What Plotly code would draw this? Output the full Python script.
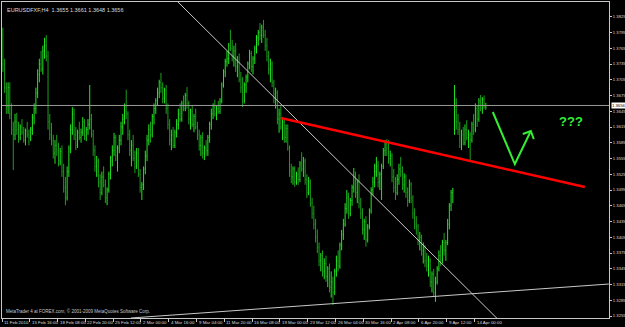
import plotly.graph_objects as go

# ---------------- data (prices x 1e-4) ----------------
opens = [
13790,13735,13690,13655,13690,13640,13610,13600,13625,13610,
13595,13615,13605,13590,13608,13600,13595,13610,13632,13650,
13680,13715,13735,13725,13760,13770,13750,13625,13600,13590,
13565,13580,13570,13550,13568,13530,13500,13480,13530,13575,
13610,13640,13600,13580,13605,13595,13605,13625,13598,13610,
13620,13630,13600,13570,13540,13550,13510,13490,13520,13505,
13480,13495,13525,13550,13570,13595,13560,13575,13590,13615,
13630,13645,13640,13600,13570,13580,13555,13540,13565,13525,
13500,13505,13535,13560,13590,13610,13600,13635,13650,13665,
13680,13700,13690,13670,13685,13650,13620,13590,13600,13580,
13605,13620,13640,13630,13660,13650,13675,13660,13630,13645,
13620,13635,13615,13600,13580,13595,13565,13575,13570,13595,
13620,13640,13655,13640,13650,13645,13665,13695,13720,13740,
13745,13770,13765,13750,13760,13730,13740,13705,13690,13665,
13695,13710,13735,13755,13730,13745,13765,13785,13795,13790,
13805,13790,13770,13750,13725,13735,13700,13670,13680,13630,
13640,13615,13625,13595,13612,13575,13530,13520,13535,13510,
13525,13515,13545,13535,13550,13515,13490,13510,13470,13450,
13430,13405,13385,13360,13370,13340,13355,13330,13345,13310,
13320,13300,13340,13360,13350,13390,13410,13430,13460,13480,
13450,13475,13500,13520,13490,13510,13470,13450,13420,13435,
13400,13425,13455,13495,13510,13530,13540,13510,13525,13540,
13570,13585,13575,13555,13560,13520,13500,13490,13515,13535,
13530,13505,13520,13490,13475,13505,13480,13450,13430,13425,
13400,13405,13380,13385,13360,13350,13360,13320,13335,13300,
13320,13345,13370,13360,13395,13380,13395,13430,13465,13490,
13610,13660,13625,13610,13590,13600,13585,13610,13595,13600,
13590,13620,13610,13650,13630,13665,13650,13668,13655]
highs = [
13804,13745,13700,13700,13700,13660,13625,13640,13642,13625,
13620,13630,13615,13612,13625,13610,13615,13640,13660,13690,
13725,13745,13760,13770,13785,13790,13760,13640,13623,13600,
13590,13600,13585,13575,13580,13545,13520,13540,13580,13620,
13653,13650,13615,13610,13625,13612,13634,13630,13615,13630,
13695,13640,13610,13580,13560,13555,13525,13530,13540,13515,
13500,13530,13560,13580,13604,13600,13580,13600,13625,13640,
13660,13686,13645,13610,13590,13600,13570,13575,13575,13535,
13510,13540,13570,13600,13620,13625,13640,13660,13670,13690,
13705,13718,13700,13690,13695,13660,13630,13610,13615,13610,
13630,13650,13660,13665,13675,13680,13691,13665,13650,13655,
13640,13650,13625,13610,13600,13605,13580,13590,13600,13625,
13650,13660,13667,13655,13665,13670,13700,13725,13745,13760,
13775,13800,13781,13770,13775,13750,13755,13720,13710,13700,
13715,13740,13762,13760,13750,13770,13790,13800,13813,13810,
13819,13800,13785,13760,13745,13740,13705,13690,13685,13650,
13655,13634,13630,13620,13620,13580,13545,13540,13540,13530,
13538,13550,13567,13558,13555,13525,13520,13515,13480,13465,
13440,13420,13395,13375,13380,13365,13370,13350,13355,13340,
13330,13345,13370,13380,13395,13419,13440,13470,13495,13490,
13480,13505,13537,13530,13515,13525,13480,13460,13440,13445,
13430,13460,13500,13520,13545,13558,13550,13530,13545,13575,
13590,13592,13590,13570,13565,13535,13520,13525,13545,13558,
13540,13527,13525,13500,13515,13510,13485,13460,13445,13430,
13415,13410,13395,13390,13375,13370,13365,13340,13345,13330,
13350,13380,13390,13400,13413,13400,13440,13470,13495,13499,
13695,13670,13640,13625,13610,13615,13620,13628,13610,13605,
13625,13640,13660,13655,13670,13676,13672,13675,13661]
lows = [
13720,13680,13640,13640,13630,13600,13533,13590,13600,13585,
13590,13600,13585,13580,13595,13580,13588,13600,13620,13640,
13670,13700,13720,13715,13745,13740,13610,13590,13580,13555,
13545,13560,13540,13542,13520,13490,13466,13475,13520,13565,
13600,13590,13571,13575,13590,13585,13598,13590,13588,13600,
13610,13595,13560,13530,13520,13500,13476,13485,13500,13470,
13466,13490,13515,13540,13560,13550,13530,13565,13580,13600,
13620,13630,13590,13560,13540,13550,13527,13535,13520,13490,
13476,13495,13525,13550,13580,13585,13595,13620,13640,13655,
13670,13680,13660,13660,13640,13610,13580,13571,13575,13575,
13595,13610,13625,13625,13645,13645,13650,13620,13610,13615,
13605,13610,13590,13570,13560,13555,13552,13560,13560,13585,
13610,13630,13635,13628,13640,13640,13660,13690,13710,13730,
13735,13760,13740,13730,13720,13710,13700,13680,13653,13660,
13680,13700,13725,13720,13715,13735,13755,13770,13780,13775,
13785,13760,13740,13715,13700,13691,13660,13650,13620,13604,
13610,13590,13585,13585,13570,13520,13508,13505,13501,13505,
13505,13510,13530,13520,13505,13480,13485,13463,13440,13420,
13395,13375,13350,13340,13330,13325,13320,13310,13300,13290,
13276,13295,13330,13340,13345,13380,13400,13425,13450,13440,
13445,13465,13490,13480,13470,13460,13440,13410,13400,13387,
13395,13420,13450,13485,13500,13520,13500,13495,13476,13535,
13560,13560,13545,13540,13510,13490,13476,13485,13505,13520,
13495,13490,13480,13463,13470,13470,13440,13420,13410,13390,
13380,13370,13355,13348,13340,13330,13310,13300,13293,13282,
13315,13340,13350,13355,13370,13360,13390,13420,13455,13470,
13600,13610,13600,13575,13571,13580,13580,13590,13575,13548,
13585,13600,13605,13615,13625,13645,13640,13650,13648]
closes = [
13735,13690,13655,13690,13640,13610,13600,13625,13610,13595,
13615,13605,13590,13608,13600,13595,13610,13632,13650,13680,
13715,13735,13725,13760,13770,13750,13625,13600,13590,13565,
13580,13570,13550,13568,13530,13500,13480,13530,13575,13610,
13640,13600,13580,13605,13595,13605,13625,13598,13610,13620,
13630,13600,13570,13540,13550,13510,13490,13520,13505,13480,
13495,13525,13550,13570,13595,13560,13575,13590,13615,13630,
13645,13640,13600,13570,13580,13555,13540,13565,13525,13500,
13505,13535,13560,13590,13610,13600,13635,13650,13665,13680,
13700,13690,13670,13685,13650,13620,13590,13600,13580,13605,
13620,13640,13630,13660,13650,13675,13660,13630,13645,13620,
13635,13615,13600,13580,13595,13565,13575,13570,13595,13620,
13640,13655,13640,13650,13645,13665,13695,13720,13740,13745,
13770,13765,13750,13760,13730,13740,13705,13690,13665,13695,
13710,13735,13755,13730,13745,13765,13785,13795,13790,13805,
13790,13770,13750,13725,13735,13700,13670,13680,13630,13640,
13615,13625,13595,13612,13575,13530,13520,13535,13510,13525,
13515,13545,13535,13550,13515,13490,13510,13470,13450,13430,
13405,13385,13360,13370,13340,13355,13330,13345,13310,13320,
13300,13340,13360,13350,13390,13410,13430,13460,13480,13450,
13475,13500,13520,13490,13510,13470,13450,13420,13435,13400,
13425,13455,13495,13510,13530,13540,13510,13525,13540,13570,
13585,13575,13555,13560,13520,13500,13490,13515,13535,13530,
13505,13520,13490,13475,13505,13480,13450,13430,13425,13400,
13405,13380,13385,13360,13350,13360,13320,13335,13300,13320,
13345,13370,13360,13395,13380,13395,13430,13465,13490,13495,
13660,13625,13610,13590,13600,13585,13610,13595,13600,13590,
13620,13610,13650,13630,13665,13650,13668,13655,13656]

date_labels = ["11 Feb 2010", "15 Feb 16:00", "18 Feb 08:00", "22 Feb 20:00",
               "25 Feb 12:00", "2 Mar 00:00", "4 Mar 16:00", "9 Mar 04:00",
               "11 Mar 20:00", "16 Mar 08:00", "19 Mar 00:00", "23 Mar 12:00",
               "26 Mar 04:00", "30 Mar 16:00", "2 Apr 08:00", "6 Apr 20:00",
               "9 Apr 12:00", "14 Apr 00:00"]
date_tick_bars = [0, 16, 32, 48, 64, 80, 96, 112, 128, 144, 160, 176, 192, 208,
                  224, 240, 256, 272]
price_labels = ["1.3255", "1.3285", "1.3315", "1.3345", "1.3375", "1.3405",
                "1.3435", "1.3465", "1.3495", "1.3525", "1.3555", "1.3585",
                "1.3615", "1.3645", "1.3675", "1.3705", "1.3735", "1.3765",
                "1.3795", "1.3825"]
symbol = "EURUSDFXF,H4"
last_price = "1.3656"

# --------------- figure ----------------
S = 1e-4
bars = list(range(len(closes)))
fig = go.Figure(go.Ohlc(
    x=bars,
    open=[v * S for v in opens], high=[v * S for v in highs],
    low=[v * S for v in lows], close=[v * S for v in closes],
    increasing=dict(line=dict(color="#22e622", width=1)),
    decreasing=dict(line=dict(color="#1c9e1c", width=1)),
    tickwidth=0.3, hoverinfo="skip"))

AX = "#c8c8c8"
TXT = "#dcdcdc"
FONT = "Liberation Sans"

# trend lines (bar index, price)
diag = ((99.6, 1.3857), (284.9, 1.3249))
support = ((73.7, 1.32512), (348.8, 1.33159))
neck = ((160.0, 1.36321), (335.0, 1.35007))
arrow_pts = [(282.0, 1.36436), (294.7, 1.35445), (303.9, 1.36074)]
arrow_head = [(299.3, 1.36017), (303.9, 1.36074), (305.6, 1.35921)]


def path(pts):
    return "M " + " L ".join(f"{a},{b}" for a, b in pts)


shapes = [
    dict(type="line", xref="paper", x0=0, x1=1, yref="y",
         y0=float(last_price), y1=float(last_price),
         line=dict(color="#9a9a9a", width=1)),
    dict(type="line", xref="x", yref="y", x0=diag[0][0], y0=diag[0][1],
         x1=diag[1][0], y1=diag[1][1], line=dict(color="#c8c8c8", width=1)),
    dict(type="line", xref="x", yref="y", x0=support[0][0], y0=support[0][1],
         x1=support[1][0], y1=support[1][1], line=dict(color="#c8c8c8", width=1)),
    dict(type="line", xref="x", yref="y", x0=neck[0][0], y0=neck[0][1],
         x1=neck[1][0], y1=neck[1][1], line=dict(color="#ff0000", width=2.5)),
    dict(type="path", xref="x", yref="y", path=path(arrow_pts),
         line=dict(color="#33ee33", width=2)),
    dict(type="path", xref="x", yref="y", path=path(arrow_head),
         line=dict(color="#33ee33", width=2)),
]

annotations = [
    dict(xref="paper", yref="paper", x=0, y=1, xanchor="left", yanchor="top",
         xshift=3, yshift=-3, showarrow=False,
         text=f"{symbol}  1.3655 1.3661 1.3648 {last_price}",
         font=dict(family=FONT, size=5.5, color=TXT)),
    dict(xref="paper", yref="paper", x=0, y=0, xanchor="left", yanchor="bottom",
         xshift=2, yshift=2, showarrow=False,
         text="MetaTrader 4 at FOREX.com, © 2001-2009 MetaQuotes Software Corp.",
         font=dict(family=FONT, size=4.5, color="#c8c8c8")),
    dict(xref="paper", yref="y", x=1, y=float(last_price), xanchor="left",
         yanchor="middle", xshift=2, showarrow=False, text=last_price,
         bgcolor="#ffffff", borderpad=0,
         font=dict(family=FONT, size=4.2, color="#000000")),
    dict(xref="x", yref="y", x=327.0, y=1.3626, showarrow=False,
         text="<b>???</b>", font=dict(family=FONT, size=13, color="#33ee33")),
]
# date labels, left-aligned at their tick (MetaTrader style)
for b, lab in zip(date_tick_bars, date_labels):
    annotations.append(dict(xref="x", yref="paper", x=b - 0.5, y=0,
                            xanchor="left", yanchor="top", yshift=-1, xshift=1,
                            showarrow=False, text=lab, borderpad=0,
                            font=dict(family=FONT, size=4.4, color=TXT)))

fig.update_layout(
    template="none",
    width=625, height=327,
    margin=dict(l=2, r=16, t=2, b=9, pad=0),
    paper_bgcolor="#000000", plot_bgcolor="#000000",
    showlegend=False,
    shapes=shapes, annotations=annotations,
    xaxis=dict(range=[-0.5, 348.9], tickvals=[b - 0.5 for b in date_tick_bars],
               showticklabels=False,
               ticks="outside", ticklen=3, tickcolor=AX, showline=True,
               mirror=True, linecolor=AX, linewidth=1, showgrid=False,
               zeroline=False, automargin=False,
               rangeslider=dict(visible=False), fixedrange=True),
    yaxis=dict(range=[1.32512, 1.38531], side="right",
               tickvals=[float(p) for p in price_labels], ticktext=price_labels,
               ticks="outside", ticklen=2, tickcolor=AX, showline=True,
               mirror=True, linecolor=AX, linewidth=1, showgrid=False,
               zeroline=False, automargin=False, ticklabelstandoff=0,
               tickfont=dict(family=FONT, size=4.2, color=TXT), fixedrange=True),
)

fig.write_html("out.html")
